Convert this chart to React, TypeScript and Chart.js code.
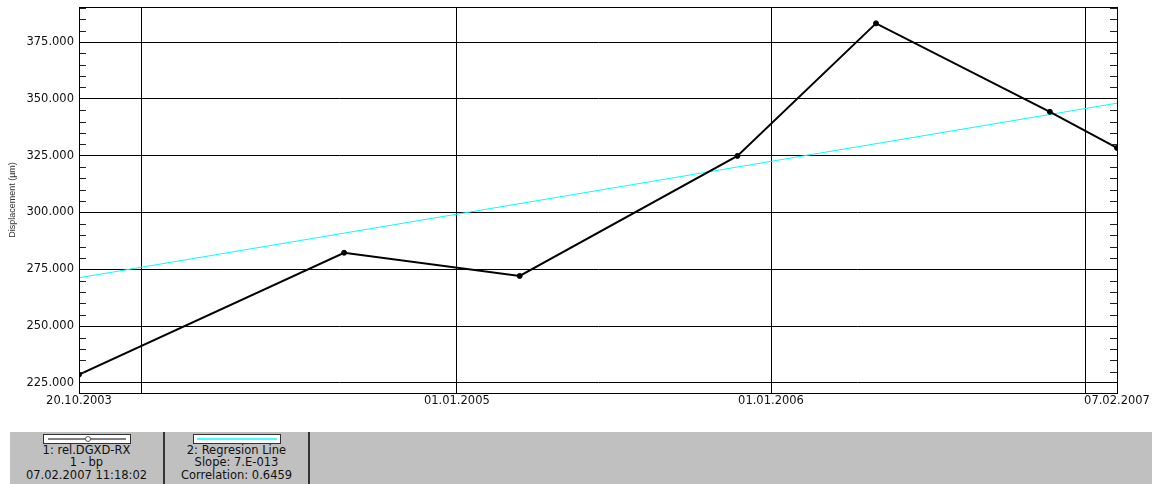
import React, { useEffect, useRef } from "react";
import { Chart, registerables } from "chart.js";

Chart.register(...registerables);

// ---- data ----
const seriesLabel = "1: rel.DGXD-RX";
const seriesSub = "1 - bp";
const seriesStamp = "07.02.2007 11:18:02";
const dataDates = ["2003-10-20", "2004-08-23", "2005-03-15", "2005-11-23", "2006-05-03", "2006-11-21", "2007-02-07"];
const dataValues = [228.7, 282.3, 272.1, 324.9, 383.2, 344.3, 328.4];

const regressionLabel = "2: Regresion Line";
const regressionSlope = "Slope: 7.E-013";
const regressionCorr = "Correlation: 0.6459";
const regressionDates = ["2003-10-20", "2007-02-07"];
const regressionValues = [271.3, 348.1];

const xTickDates = ["2003-10-20", "2004-01-01", "2005-01-01", "2006-01-01", "2007-01-01", "2007-02-07"];
const xTickLabels = ["20.10.2003", "", "01.01.2005", "01.01.2006", "", "07.02.2007"];
const yTickValues = [225, 250, 275, 300, 325, 350, 375];
const yMin = 220.6;
const yMax = 390.4;
const yMinorStep = 5;
const yTitle = "Displacement (µm)";

const toMs = (d: string) => Date.parse(d + "T00:00:00Z");
const FONT = "'DejaVu Sans', sans-serif";

const framePlugin = {
  id: "frameAndMinorTicks",
  afterDraw(chart: any) {
    const { ctx, chartArea } = chart;
    const y = chart.scales.y;
    ctx.save();
    ctx.strokeStyle = "#222";
    ctx.lineWidth = 1;
    ctx.beginPath();
    const start = Math.ceil(yMin / yMinorStep) * yMinorStep;
    for (let v = start; v <= yMax; v += yMinorStep) {
      if (v % 25 === 0) continue;
      const py = Math.round(y.getPixelForValue(v)) + 0.5;
      ctx.moveTo(chartArea.left, py);
      ctx.lineTo(chartArea.left + 7, py);
      ctx.moveTo(chartArea.right - 7, py);
      ctx.lineTo(chartArea.right, py);
    }
    ctx.stroke();
    ctx.strokeStyle = "#000";
    ctx.strokeRect(
      Math.round(chartArea.left) + 0.5,
      Math.round(chartArea.top) + 0.5,
      Math.round(chartArea.right - chartArea.left),
      Math.round(chartArea.bottom - chartArea.top)
    );
    ctx.restore();
  },
};

function ChartCanvas() {
  const ref = useRef<HTMLCanvasElement | null>(null);
  useEffect(() => {
    if (!ref.current) return;
    const xTicks = xTickDates.map(toMs);
    const chart = new Chart(ref.current, {
      type: "line",
      data: {
        datasets: [
          {
            label: seriesLabel,
            data: dataDates.map((d, i) => ({ x: toMs(d), y: dataValues[i] })),
            borderColor: "#000",
            borderWidth: 2,
            pointRadius: 2.5,
            pointBorderWidth: 1,
            pointBackgroundColor: "#000",
            pointBorderColor: "#000",
            tension: 0,
          },
          {
            label: regressionLabel,
            data: regressionDates.map((d, i) => ({ x: toMs(d), y: regressionValues[i] })),
            borderColor: "#00ffff",
            borderWidth: 1,
            pointRadius: 0,
            tension: 0,
          },
        ],
      },
      options: {
        animation: false,
        responsive: false,
        devicePixelRatio: 1,
        layout: { padding: { top: 7, right: 40, left: 0, bottom: 0 } },
        plugins: { legend: { display: false }, tooltip: { enabled: false } },
        scales: {
          x: {
            type: "linear",
            min: xTicks[0],
            max: xTicks[xTicks.length - 1],
            afterBuildTicks: (s: any) => {
              s.ticks = xTicks.map((v) => ({ value: v }));
            },
            afterFit: (s: any) => {
              s.height = 39;
            },
            ticks: {
              autoSkip: false,
              maxRotation: 0,
              minRotation: 0,
              padding: 1,
              color: "#111",
              font: { family: FONT, size: 11.5 },
              callback: (_v: any, i: number) => xTickLabels[i],
            },
            grid: { color: "#000", lineWidth: 1, drawTicks: false },
            border: { display: true, color: "#000" },
          },
          y: {
            type: "linear",
            min: yMin,
            max: yMax,
            afterBuildTicks: (s: any) => {
              s.ticks = yTickValues.map((v) => ({ value: v }));
            },
            afterFit: (s: any) => {
              s.width = 79;
              s.paddingTop = 0;
              s.paddingBottom = 0;
            },
            ticks: {
              padding: 5,
              color: "#111",
              font: { family: FONT, size: 11.5 },
              callback: (v: any) => Number(v).toFixed(3),
            },
            grid: { color: "#000", lineWidth: 1, drawTicks: false },
            border: { display: true, color: "#000" },
            title: {
              display: true,
              text: yTitle,
              color: "#333",
              font: { family: "'Liberation Sans', Arial, sans-serif", size: 9 },
              padding: { top: 7, bottom: 0 },
            },
          },
        },
      },
      plugins: [framePlugin],
    } as any);
    return () => chart.destroy();
  }, []);
  return <canvas ref={ref} width={1157} height={432} style={{ display: "block", width: 1157, height: 432 }} />;
}

const textStyle: React.CSSProperties = {
  fontFamily: FONT,
  fontSize: 11.5,
  lineHeight: "12.4px",
  color: "#111",
  textAlign: "center",
  whiteSpace: "nowrap",
};

function LegendBox(props: { left: number; width: number; lines: string[]; sample: React.ReactNode }) {
  return (
    <div
      style={{
        position: "absolute",
        left: props.left,
        top: 0,
        width: props.width,
        height: 52,
        borderRight: "2px solid #333",
        boxSizing: "border-box",
      }}
    >
      <div
        style={{
          position: "absolute",
          left: "50%",
          top: 2,
          marginLeft: -44,
          width: 88,
          height: 10,
          background: "#fff",
          border: "1px solid #333",
          boxSizing: "border-box",
        }}
      >
        {props.sample}
      </div>
      <div style={{ position: "absolute", left: 0, right: 0, top: 12, ...textStyle }}>
        {props.lines.map((l, i) => (
          <div key={i}>{l}</div>
        ))}
      </div>
    </div>
  );
}

export default function App() {
  return (
    <div style={{ position: "fixed", left: 0, top: 0, width: 1157, height: 484, background: "#fff", overflow: "hidden" }}>
      <ChartCanvas />
      <div style={{ position: "absolute", left: 10, top: 432, width: 1142, height: 52, background: "#c0c0c0" }}>
        <LegendBox
          left={0}
          width={155}
          lines={[seriesLabel, seriesSub, seriesStamp]}
          sample={
            <svg width={86} height={8} style={{ display: "block" }}>
              <line x1={4} y1={4} x2={82} y2={4} stroke="#000" strokeWidth={1} />
              <circle cx={44} cy={4} r={2.5} fill="#fff" stroke="#555" strokeWidth={1} />
            </svg>
          }
        />
        <LegendBox
          left={155}
          width={145}
          lines={[regressionLabel, regressionSlope, regressionCorr]}
          sample={
            <svg width={86} height={8} style={{ display: "block" }}>
              <line x1={3} y1={4} x2={83} y2={4} stroke="#00ffff" strokeWidth={1.5} />
            </svg>
          }
        />
      </div>
    </div>
  );
}
